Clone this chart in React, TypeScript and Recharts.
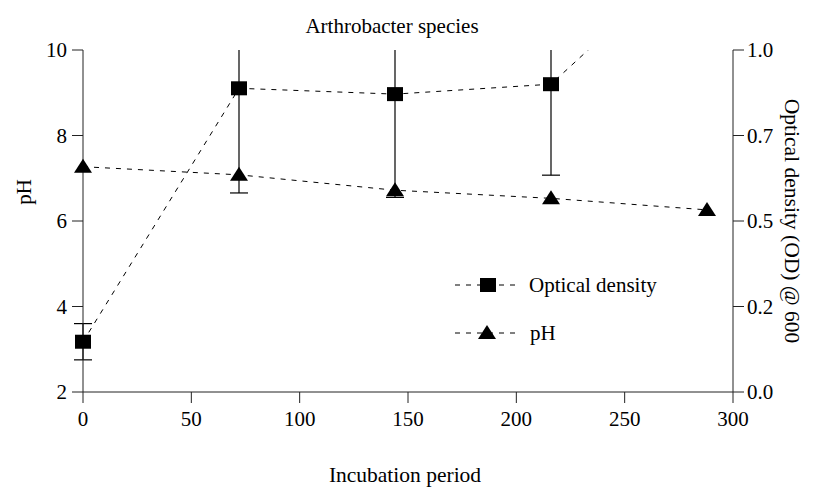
import { ComposedChart, Line, XAxis, YAxis, ErrorBar, Legend } from "recharts";

const hours = [0, 72, 144, 216, 288];
const opticalDensity = [0.147, 0.888, 0.871, 0.9, 1.32];
const odError = [0.053, 0.306, 0.302, 0.266, 0];
const phValues = [7.27, 7.08, 6.72, 6.53, 6.26];

const hourTicks = [0, 50, 100, 150, 200, 250, 300];
const phTicks = [2, 4, 6, 8, 10];
const odTicks = [0, 0.25, 0.5, 0.75, 1];
const odTickLabels = ["0.0", "0.2", "0.5", "0.7", "1.0"];

const data = hours.map((h, i) => ({
  hours: h,
  od: opticalDensity[i],
  odErr: odError[i],
  ph: phValues[i],
}));

const font = "'Liberation Serif', 'Times New Roman', serif";
const ink = "#000";
const axisInk = "#222";
const tickStyle = { fontSize: 21, fill: ink, fontFamily: font };

const SquareDot = (props: any) => {
  const { cx, cy, index } = props;
  if (cx == null || cy == null) return <g key={`sq-${index}`} />;
  return <rect key={`sq-${index}`} x={cx - 8} y={cy - 7} width={16} height={14} fill={ink} />;
};

const TriangleDot = (props: any) => {
  const { cx, cy, index } = props;
  if (cx == null || cy == null) return <g key={`tr-${index}`} />;
  return (
    <polygon
      key={`tr-${index}`}
      points={`${cx},${cy - 8} ${cx - 9},${cy + 6} ${cx + 9},${cy + 6}`}
      fill={ink}
    />
  );
};

function SeriesLegend() {
  return (
    <svg width={250} height={80} style={{ display: "block" }}>
      <line x1={5} y1={17} x2={68} y2={17} stroke={ink} strokeDasharray="5 6" />
      <rect x={30} y={10} width={16} height={14} fill={ink} />
      <text x={79} y={24} fontSize={21} fontFamily={font} fill={ink}>
        Optical density
      </text>
      <line x1={5} y1={65} x2={68} y2={65} stroke={ink} strokeDasharray="5 6" />
      <polygon points="37,57 28,71 46,71" fill={ink} />
      <text x={80} y={72} fontSize={21} fontFamily={font} fill={ink}>
        pH
      </text>
    </svg>
  );
}

export default function App() {
  return (
    <div style={{ position: "absolute", left: 0, top: 0, width: 815, height: 487, background: "#fff" }}>
      <style>{`.recharts-errorBars { clip-path: url(#plotClip); }`}</style>
      <ComposedChart width={815} height={487} data={data} margin={{ top: 50, right: 0, bottom: 0, left: 0 }}>
        <defs>
          <clipPath id="plotClip">
            <rect x={0} y={50} width={815} height={360} />
          </clipPath>
        </defs>
        <XAxis
          dataKey="hours"
          type="number"
          domain={[0, 300]}
          ticks={hourTicks}
          height={95}
          tick={tickStyle}
          tickSize={11}
          tickMargin={8}
          stroke={axisInk}
          yAxisId="ph"
        />
        <YAxis
          yAxisId="ph"
          domain={[2, 10]}
          ticks={phTicks}
          width={83}
          tick={tickStyle}
          tickSize={11}
          tickMargin={5}
          stroke={axisInk}
        />
        <YAxis
          yAxisId="od"
          orientation="right"
          domain={[0, 1]}
          allowDataOverflow
          ticks={odTicks}
          tickFormatter={(v: number) => odTickLabels[odTicks.indexOf(v)] ?? String(v)}
          width={82}
          tick={tickStyle}
          tickSize={11}
          tickMargin={3}
          stroke={axisInk}
        />
        <Line
          yAxisId="od"
          dataKey="od"
          type="linear"
          stroke={ink}
          strokeWidth={1}
          strokeDasharray="5 6"
          dot={SquareDot}
          activeDot={false}
          isAnimationActive={false}
        >
          <ErrorBar dataKey="odErr" direction="y" width={9} stroke={ink} strokeWidth={1.2} />
        </Line>
        <Line
          yAxisId="ph"
          dataKey="ph"
          type="linear"
          stroke={ink}
          strokeWidth={1}
          strokeDasharray="5 6"
          dot={TriangleDot}
          activeDot={false}
          isAnimationActive={false}
        />
        <Legend
          layout="horizontal"
          verticalAlign="middle"
          align="center"
          content={() => <SeriesLegend />}
          wrapperStyle={{ position: "absolute", left: 450, top: 268, width: 250, height: 80 }}
        />
        <text x={392} y={33} textAnchor="middle" fontSize={21} fontFamily={font} fill={ink}>
          Arthrobacter species
        </text>
        <text x={405} y={482} textAnchor="middle" fontSize={21.5} fontFamily={font} fill={ink}>
          Incubation period
        </text>
        <text
          x={24}
          y={192}
          textAnchor="middle"
          dominantBaseline="central"
          transform="rotate(-90 24 192)"
          fontSize={21}
          fontFamily={font}
          fill={ink}
        >
          pH
        </text>
        <text
          x={792}
          y={221}
          textAnchor="middle"
          dominantBaseline="central"
          transform="rotate(90 792 221)"
          fontSize={21.5}
          fontFamily={font}
          fill={ink}
        >
          Optical density (OD) @ 600
        </text>
      </ComposedChart>
    </div>
  );
}
